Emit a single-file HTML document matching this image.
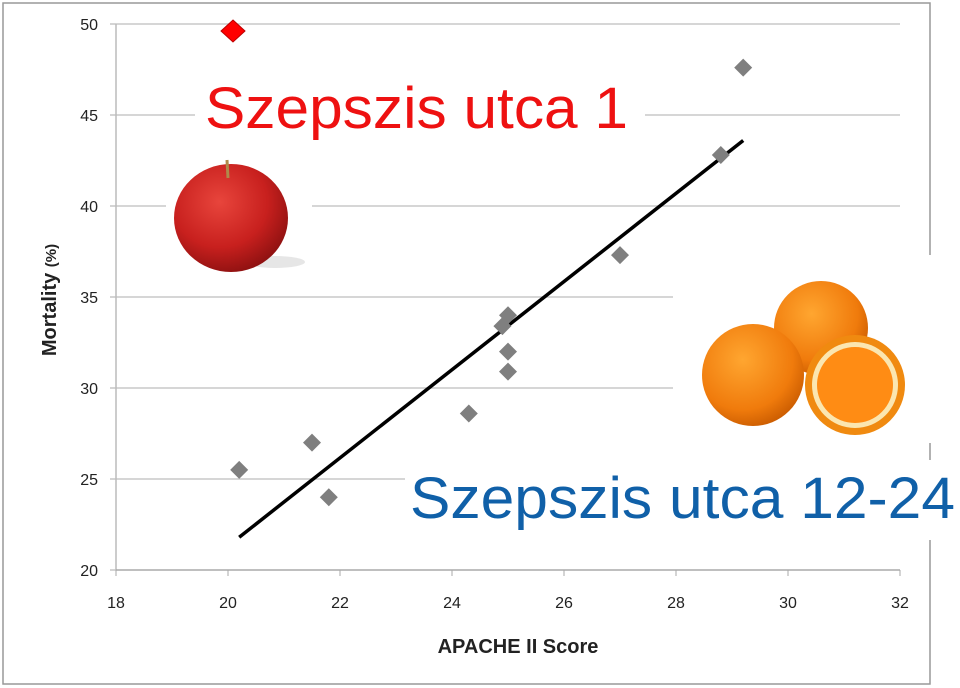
<!DOCTYPE html>
<html><head><meta charset="utf-8"><style>
body{margin:0;background:#fff;}
svg{display:block;font-family:"Liberation Sans",sans-serif;}
</style></head><body>
<svg width="960" height="688" viewBox="0 0 960 688">
<defs>
<radialGradient id="ap" cx="0.4" cy="0.35" r="0.7"><stop offset="0" stop-color="#e8453c"/><stop offset="0.6" stop-color="#c8201e"/><stop offset="1" stop-color="#8a1010"/></radialGradient>
<radialGradient id="or" cx="0.4" cy="0.35" r="0.7"><stop offset="0" stop-color="#ffa630"/><stop offset="0.7" stop-color="#f07b0c"/><stop offset="1" stop-color="#c85a00"/></radialGradient>
</defs>
<rect x="3" y="3" width="927" height="681" fill="#fff" stroke="#999" stroke-width="1.5"/>
<g id="grid"></g>
<g id="axes"></g>
<g id="marks"></g>
<rect x="166" y="150" width="146" height="130" fill="#fff"/>
<g>
<ellipse cx="275" cy="262" rx="30" ry="6" fill="#e6e6e6"/>
<ellipse cx="231" cy="218" rx="57" ry="54" fill="url(#ap)"/>
<path d="M228 178 L227 160" stroke="#b08a4a" stroke-width="3"/>
</g>
<rect x="195" y="78" width="450" height="62" fill="#fff"/>
<text x="205" y="128" font-size="58" textLength="423" lengthAdjust="spacingAndGlyphs" fill="#ee1111">Szepszis utca 1</text>
<rect x="673" y="255" width="262" height="188" fill="#fff"/>
<g>
<circle cx="821" cy="328" r="47" fill="url(#or)"/>
<circle cx="753" cy="375" r="51" fill="url(#or)"/>
<circle cx="855" cy="385" r="50" fill="#f08a10"/>
<circle cx="855" cy="385" r="43" fill="#fbe6b0"/>
<circle cx="855" cy="385" r="38" fill="#ff8c14"/>
</g>
<rect x="405" y="460" width="555" height="80" fill="#fff"/>
<text x="410" y="518" font-size="58" textLength="545" lengthAdjust="spacingAndGlyphs" fill="#1060a8">Szepszis utca 12-24</text>
<text x="518" y="653" font-size="20" font-weight="bold" text-anchor="middle" fill="#222">APACHE II Score</text>
<text transform="translate(56,300) rotate(-90)" font-size="20" font-weight="bold" text-anchor="middle" fill="#222">Mortality <tspan font-size="15">(%)</tspan></text>
<polygon points="233,20 245,31 233,42 221,31" fill="#f00" stroke="#b00"/>
</svg>
<script>
const xTicks=[18,20,22,24,26,28,30,32];
const yTicks=[20,25,30,35,40,45,50];
const scoreX=[20.2,21.5,21.8,24.3,24.9,25,25,25,27,28.8,29.2];
const mortY=[25.5,27,24,28.6,33.4,34,32,30.9,37.3,42.8,47.6];
const trendX=[20.2,29.2];
const trendY=[21.8,43.6];
const X=v=>116+(v-18)*56;
const Y=v=>570-(v-20)*18.2;
const NS="http://www.w3.org/2000/svg";
function mk(t,a,p){const e=document.createElementNS(NS,t);for(const k in a)e.setAttribute(k,a[k]);p.appendChild(e);return e;}
const grid=document.getElementById('grid'),axes=document.getElementById('axes'),marks=document.getElementById('marks');
yTicks.forEach(v=>{
 if(v>20){const l=mk('line',{x1:116,x2:900,y1:Y(v),y2:Y(v),stroke:'#c8c8c8','stroke-width':1.5},grid);
 
 }
 const tk=mk('line',{x1:110,x2:116,y1:Y(v),y2:Y(v),stroke:'#aaa'},axes);
 
 
 const t=mk('text',{x:98,y:Y(v)+6,'font-size':16,'text-anchor':'end',fill:'#222'},axes);t.textContent=v;
 
 
});
const ya=mk('line',{x1:116,x2:116,y1:Y(50),y2:Y(20),stroke:'#bbb','stroke-width':1.5},axes);


const xa=mk('line',{x1:116,x2:900,y1:Y(20),y2:Y(20),stroke:'#aaa','stroke-width':1.5},axes);


xTicks.forEach(v=>{
 const tk=mk('line',{x1:X(v),x2:X(v),y1:Y(20),y2:Y(20)+6,stroke:'#aaa'},axes);
 
 
 const t=mk('text',{x:X(v),y:608,'font-size':16,'text-anchor':'middle',fill:'#222'},axes);t.textContent=v;
 
 
});
const tl=mk('line',{x1:X(trendX[0]),y1:Y(trendY[0]),x2:X(trendX[1]),y2:Y(trendY[1]),stroke:'#000','stroke-width':3.5},marks);


scoreX.forEach((v,i)=>{
 const cx=X(v),cy=Y(mortY[i]);
 const p=mk('polygon',{points:`${cx},${cy-9} ${cx+9},${cy} ${cx},${cy+9} ${cx-9},${cy}`,fill:'#7f7f7f'},marks);
 
 
});
</script>
</body></html>
